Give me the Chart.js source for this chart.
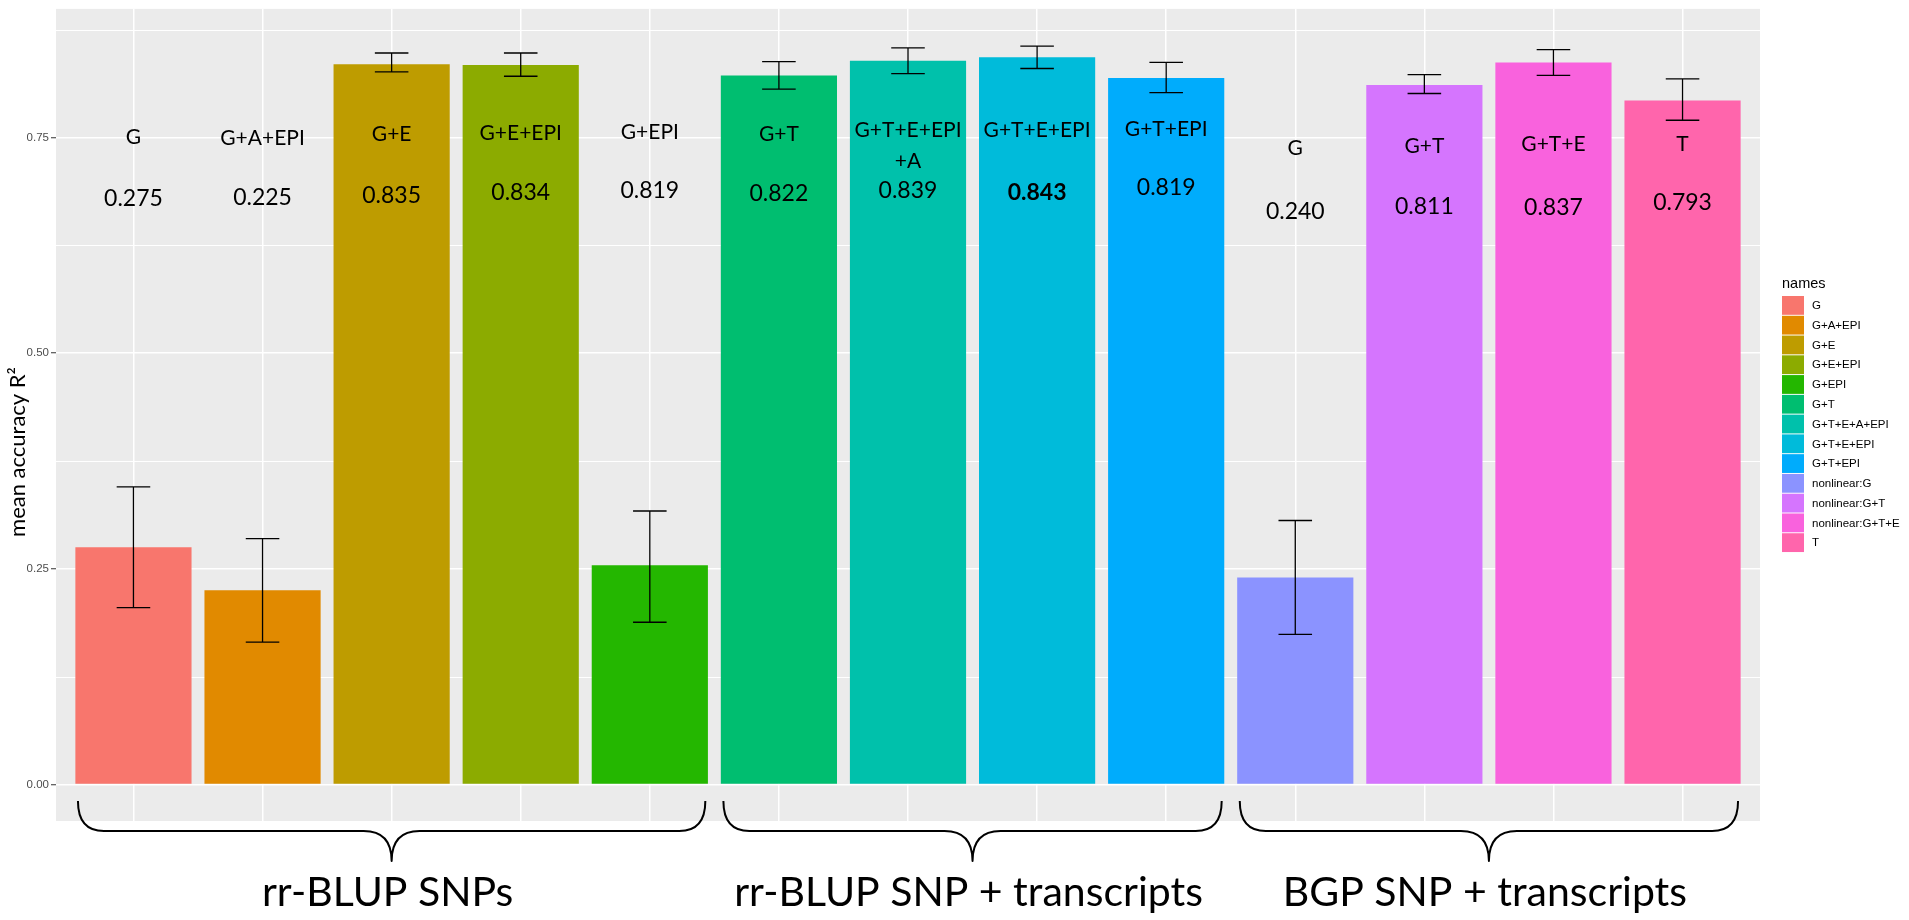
<!DOCTYPE html>
<html>
<head>
<meta charset="utf-8">
<script src="https://cdn.jsdelivr.net/npm/chart.js@4.4.0/dist/chart.umd.min.js"></script>
<style>
html, body { margin: 0; padding: 0; background: #ffffff; }
#wrap { width: 1909px; height: 920px; }
</style>
</head>
<body>
<div id="wrap"><canvas id="accChart" width="1909" height="920"></canvas></div>
<script>
// data
const categories = ['G', 'G+A+EPI', 'G+E', 'G+E+EPI', 'G+EPI', 'G+T', 'G+T+E+A+EPI', 'G+T+E+EPI', 'G+T+EPI', 'nonlinear:G', 'nonlinear:G+T', 'nonlinear:G+T+E', 'T'];
const meanAcc = [0.275, 0.225, 0.835, 0.834, 0.254, 0.822, 0.839, 0.843, 0.819, 0.240, 0.811, 0.837, 0.793];
const errLow  = [0.205, 0.165, 0.826, 0.821, 0.188, 0.806, 0.824, 0.830, 0.802, 0.174, 0.801, 0.822, 0.770];
const errHigh = [0.345, 0.285, 0.848, 0.848, 0.317, 0.838, 0.854, 0.856, 0.837, 0.306, 0.823, 0.852, 0.818];
const noteNames = ['G', 'G+A+EPI', 'G+E', 'G+E+EPI', 'G+EPI', 'G+T', ['G+T+E+EPI', '+A'], 'G+T+E+EPI', 'G+T+EPI', 'G', 'G+T', 'G+T+E', 'T'];
const noteValues = ['0.275', '0.225', '0.835', '0.834', '0.819', '0.822', '0.839', '0.843', '0.819', '0.240', '0.811', '0.837', '0.793'];
const groupNames = ['rr-BLUP SNPs', 'rr-BLUP SNP + transcripts', 'BGP SNP + transcripts'];
const groupFirst = [0, 5, 9];
const groupLast = [4, 8, 12];
const yTicks = [0, 0.25, 0.5, 0.75];

// ggplot hue palette, 13 levels
const colors = ['#F8766D', '#E18A00', '#BE9C00', '#8CAB00', '#24B700', '#00BE70', '#00C1AB', '#00BBDA', '#00ACFC', '#8B93FF', '#D575FE', '#F962DD', '#FF65AC'];

// where the hand-placed text boxes sit (cap middle, px)
const nameMidY = [136, 137, 133, 132, 131, 133, 129, 129, 128, 147, 145, 143, 143];
const valueMidY = [198, 197, 195, 192, 190, 193, 190, 192, 187, 211, 206, 207, 202];
const boldValue = 7;

const NOTE_FONT = 'Lato, "Open Sans", sans-serif';
const LEG_FONT = '"Liberation Sans", Arial, sans-serif';

const panel = {
    id: 'panel',
    beforeDraw(chart) {
        const { ctx, chartArea: a, scales: { y } } = chart;
        ctx.save();
        ctx.fillStyle = '#EBEBEB';
        ctx.fillRect(a.left, a.top, a.right - a.left, a.bottom - a.top);
        // minor grid lines half way between the major ones
        ctx.strokeStyle = '#ffffff';
        ctx.lineWidth = 1;
        for (let i = 0; i < yTicks.length; i++) {
            const py = Math.round(y.getPixelForValue(yTicks[i] + 0.125)) + 0.5;
            ctx.beginPath();
            ctx.moveTo(a.left, py);
            ctx.lineTo(a.right, py);
            ctx.stroke();
        }
        ctx.restore();
    }
};

const notes = {
    id: 'notes',
    afterDatasetsDraw(chart) {
        const { ctx, chartArea: a, scales: { x, y } } = chart;
        ctx.save();

        // error bars
        const half = x.getPixelForValue(0.13) - x.getPixelForValue(0);
        ctx.strokeStyle = '#000000';
        ctx.lineWidth = 1.3;
        for (let i = 0; i < categories.length; i++) {
            const px = x.getPixelForValue(i);
            const yl = y.getPixelForValue(errLow[i]);
            const yh = y.getPixelForValue(errHigh[i]);
            ctx.beginPath();
            ctx.moveTo(px, yh); ctx.lineTo(px, yl);
            ctx.moveTo(px - half, yh); ctx.lineTo(px + half, yh);
            ctx.moveTo(px - half, yl); ctx.lineTo(px + half, yl);
            ctx.stroke();
        }

        // text boxes over the bars
        ctx.fillStyle = '#000000';
        ctx.textAlign = 'center';
        ctx.textBaseline = 'alphabetic';
        for (let i = 0; i < categories.length; i++) {
            const px = x.getPixelForValue(i);
            ctx.font = '21px ' + NOTE_FONT;
            const lines = Array.isArray(noteNames[i]) ? noteNames[i] : [noteNames[i]];
            for (let k = 0; k < lines.length; k++) {
                ctx.fillText(lines[k], px, nameMidY[i] + k * 31 + 7.5);
            }
            ctx.font = (i === boldValue ? 'bold ' : '') + '23px ' + NOTE_FONT;
            ctx.fillText(noteValues[i], px, valueMidY[i] + 8.2);
        }

        // curly braces + group names
        const yArm = a.bottom - 20, yBar = a.bottom + 10, yTip = a.bottom + 40;
        ctx.lineWidth = 2;
        ctx.lineJoin = 'round';
        for (let g = 0; g < groupNames.length; g++) {
            const x0 = x.getPixelForValue(groupFirst[g] - 0.43);
            const x1 = x.getPixelForValue(groupLast[g] + 0.43);
            const tip = (x0 + x1) / 2;
            ctx.beginPath();
            ctx.moveTo(x0, yArm);
            ctx.quadraticCurveTo(x0, yBar, x0 + 26, yBar);
            ctx.lineTo(tip - 28, yBar);
            ctx.quadraticCurveTo(tip, yBar, tip, yTip);
            ctx.quadraticCurveTo(tip, yBar, tip + 28, yBar);
            ctx.lineTo(x1 - 26, yBar);
            ctx.quadraticCurveTo(x1, yBar, x1, yArm);
            ctx.stroke();

            ctx.font = '41px ' + NOTE_FONT;
            ctx.fillText(groupNames[g], tip - 4, 906);
        }

        // y title
        ctx.save();
        ctx.translate(18, 452);
        ctx.rotate(-Math.PI / 2);
        ctx.font = '22px ' + NOTE_FONT;
        ctx.textBaseline = 'middle';
        ctx.fillText('mean accuracy R²', 0, 0);
        ctx.restore();

        // legend
        const lx = a.right + 22;
        ctx.textAlign = 'left';
        ctx.font = '14.5px ' + LEG_FONT;
        ctx.fillText('names', lx, 288);
        ctx.font = '11.5px ' + LEG_FONT;
        ctx.textBaseline = 'middle';
        for (let i = 0; i < categories.length; i++) {
            const top = 296 + i * 19.77;
            ctx.fillStyle = colors[i];
            ctx.fillRect(lx, top, 22, 18.8);
            ctx.fillStyle = '#000000';
            ctx.fillText(categories[i], lx + 30, top + 10);
        }
        ctx.restore();
    }
};

const ctx = document.getElementById('accChart').getContext('2d');
new Chart(ctx, {
    type: 'bar',
    data: {
        labels: categories,
        datasets: [{
            data: meanAcc.map((v, i) => ({ x: i, y: v })),
            backgroundColor: colors,
            borderWidth: 0,
            categoryPercentage: 1,
            barPercentage: 0.9
        }]
    },
    options: {
        responsive: false,
        animation: false,
        layout: { padding: { left: 0, right: 149, top: 8, bottom: 99 } },
        scales: {
            x: {
                type: 'linear',
                min: -0.6,
                max: 12.6,
                offset: false,
                border: { display: false },
                ticks: { display: false, stepSize: 1, includeBounds: false },
                grid: { offset: false, color: '#ffffff', lineWidth: 1.5, drawTicks: false },
                afterFit(scale) { scale.height = 0; }
            },
            y: {
                min: -0.0424,
                max: 0.8991,
                border: { display: false },
                afterFit(scale) { scale.width = 56; },
                ticks: {
                    stepSize: 0.25,
                    includeBounds: false,
                    padding: 2,
                    color: '#4D4D4D',
                    font: { family: LEG_FONT, size: 11.5 },
                    callback: (v) => v.toFixed(2)
                },
                grid: { color: '#ffffff', lineWidth: 1.5, tickColor: '#333333', tickLength: 5, tickWidth: 1 }
            }
        },
        plugins: {
            legend: { display: false },
            tooltip: { enabled: false }
        }
    },
    plugins: [panel, notes]
});
</script>
</body>
</html>
